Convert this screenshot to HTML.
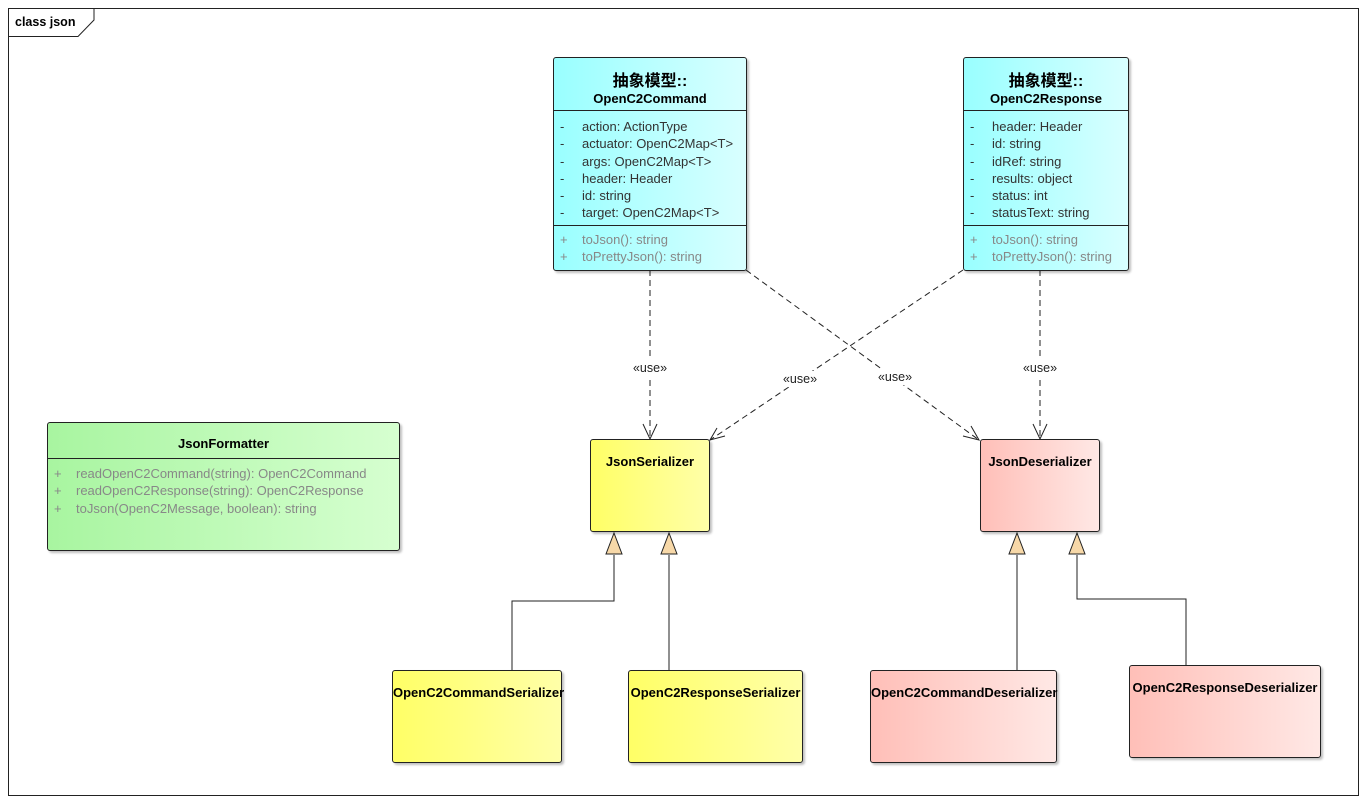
<!DOCTYPE html>
<html><head><meta charset="utf-8"><style>
body{margin:0;width:1367px;height:803px;background:#fff;font-family:"Liberation Sans","Noto Sans CJK SC",sans-serif;position:relative;overflow:hidden}
.b{position:absolute;border:1px solid #222;border-radius:3px;box-shadow:2px 2px 2px rgba(0,0,0,.25);box-sizing:border-box}
.cy{background:linear-gradient(90deg,#9ff 0%,#d9ffff 100%)}
.gr{background:linear-gradient(90deg,#a8f5a0 0%,#d6ffd0 100%)}
.ye{background:linear-gradient(90deg,#ffff66 0%,#ffffa8 100%)}
.pk{background:linear-gradient(90deg,#ffbfb8 0%,#ffe8e5 100%)}
.t{font-weight:bold;font-size:13px;text-align:center}
.m{font-size:13px;line-height:17.3px;color:#333;white-space:nowrap}
.m span{display:inline-block;width:22px;padding-left:6px}
.g{color:#888}
.hr{border-top:1px solid #222}
</style></head><body>
<svg width="1367" height="803" style="position:absolute;left:0;top:0">
<rect x="8.5" y="8.5" width="1350" height="787" fill="none" stroke="#222"/>
<path d="M8.5 36.5 H78 L94 20 V8.5" fill="none" stroke="#222"/>
<text x="15" y="26" font-size="12.5" font-weight="bold" font-family="Liberation Sans">class json</text>
<g stroke="#222" stroke-dasharray="6,4" fill="none">
<line x1="650" y1="270" x2="650" y2="438"/>
<line x1="746" y1="270" x2="979" y2="440"/>
<line x1="963" y1="270" x2="710" y2="440"/>
<line x1="1040" y1="270" x2="1040" y2="438"/>
</g>
<g stroke="#222" fill="none">
<path d="M643 424 L650 439 L657 424"/>
<path d="M1033 424 L1040 439 L1047 424"/>
<path d="M963 436 L979 440 L971 426"/>
<path d="M717 428 L710 440 L725 436"/>
<path d="M614 555 V601 H512 V670"/>
<path d="M669 555 V670"/>
<path d="M1017 555 V670"/>
<path d="M1077 555 V599 H1186 V665"/>
</g>
<g stroke="#222" fill="#f7d8a8">
<path d="M614 533 L606 554 L622 554Z"/>
<path d="M669 533 L661 554 L677 554Z"/>
<path d="M1017 533 L1009 554 L1025 554Z"/>
<path d="M1077 533 L1069 554 L1085 554Z"/>
</g>
<g font-size="12.5" font-family="Liberation Sans" text-anchor="middle" fill="#222">
<rect x="630" y="360" width="40" height="16" fill="#fff"/>
<text x="650" y="372">«use»</text>
<rect x="1020" y="360" width="40" height="16" fill="#fff"/>
<text x="1040" y="372">«use»</text>
<rect x="780" y="371" width="40" height="16" fill="#fff"/>
<text x="800" y="383">«use»</text>
<rect x="875" y="369" width="40" height="16" fill="#fff"/>
<text x="895" y="381">«use»</text>
</g>
</svg>

<div class="b cy" style="left:553px;top:57px;width:194px;height:214px">
<div class="t" style="height:52px;padding-top:9px;box-sizing:border-box"><div style="font-size:16px">抽象模型::</div><div>OpenC2Command</div></div>
<div class="hr m" style="padding-top:7px;height:115px;box-sizing:border-box">
<div><span>-</span>action: ActionType</div><div><span>-</span>actuator: OpenC2Map&lt;T&gt;</div><div><span>-</span>args: OpenC2Map&lt;T&gt;</div><div><span>-</span>header: Header</div><div><span>-</span>id: string</div><div><span>-</span>target: OpenC2Map&lt;T&gt;</div></div>
<div class="hr m g" style="padding-top:5px"><div><span>+</span>toJson(): string</div><div><span>+</span>toPrettyJson(): string</div></div>
</div>

<div class="b cy" style="left:963px;top:57px;width:166px;height:214px">
<div class="t" style="height:52px;padding-top:9px;box-sizing:border-box"><div style="font-size:16px">抽象模型::</div><div>OpenC2Response</div></div>
<div class="hr m" style="padding-top:7px;height:115px;box-sizing:border-box">
<div><span>-</span>header: Header</div><div><span>-</span>id: string</div><div><span>-</span>idRef: string</div><div><span>-</span>results: object</div><div><span>-</span>status: int</div><div><span>-</span>statusText: string</div></div>
<div class="hr m g" style="padding-top:5px"><div><span>+</span>toJson(): string</div><div><span>+</span>toPrettyJson(): string</div></div>
</div>

<div class="b gr" style="left:47px;top:422px;width:353px;height:129px">
<div class="t" style="height:35px;padding-top:13px;box-sizing:border-box">JsonFormatter</div>
<div class="hr m g" style="padding-top:6px"><div><span>+</span>readOpenC2Command(string): OpenC2Command</div><div><span>+</span>readOpenC2Response(string): OpenC2Response</div><div><span>+</span>toJson(OpenC2Message, boolean): string</div></div>
</div>

<div class="b ye t" style="left:590px;top:439px;width:120px;height:93px;padding-top:14px">JsonSerializer</div>
<div class="b pk t" style="left:980px;top:439px;width:120px;height:93px;padding-top:14px">JsonDeserializer</div>
<div class="b ye t" style="left:392px;top:670px;width:170px;height:93px;padding-top:14px">OpenC2CommandSerializer</div>
<div class="b ye t" style="left:628px;top:670px;width:175px;height:93px;padding-top:14px">OpenC2ResponseSerializer</div>
<div class="b pk t" style="left:870px;top:670px;width:187px;height:93px;padding-top:14px">OpenC2CommandDeserializer</div>
<div class="b pk t" style="left:1129px;top:665px;width:192px;height:93px;padding-top:14px">OpenC2ResponseDeserializer</div>
</body></html>
